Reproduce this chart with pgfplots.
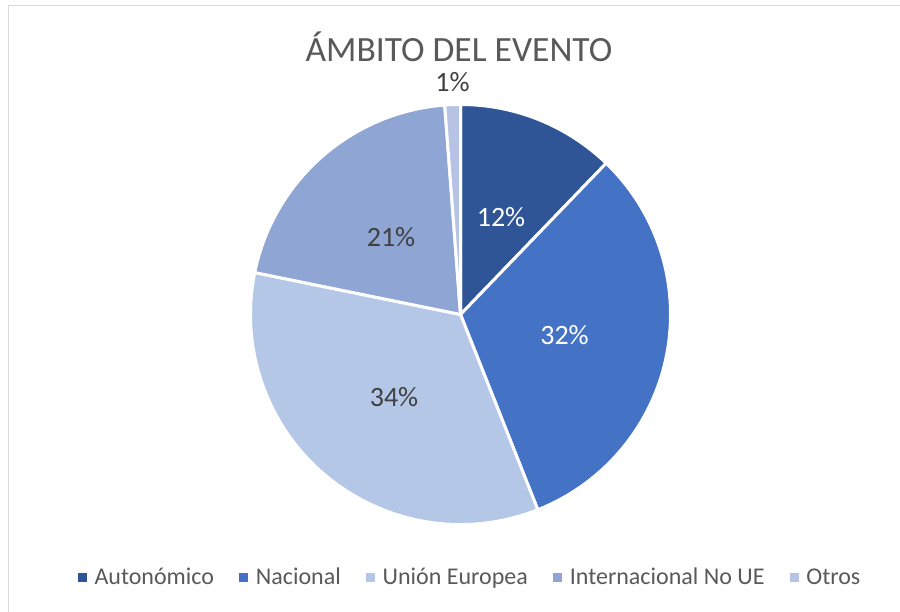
\documentclass[border=0pt]{standalone}
\usepackage{pgfplots}
\pgfplotsset{compat=1.18}
\usepackage{pgfplotstable}
\usepackage{fontspec}
\setmainfont{Carlito}

\definecolor{slice0}{HTML}{2F5597}
\definecolor{slice1}{HTML}{4472C4}
\definecolor{slice2}{HTML}{B4C7E7}
\definecolor{slice3}{HTML}{8FA5D3}
\definecolor{slice4}{HTML}{B7C3E4}
\definecolor{titlegray}{HTML}{595959}
\definecolor{labelgray}{HTML}{404040}
\definecolor{bordergray}{HTML}{D9D9D9}

% share of each category (%), clockwise from 12 o'clock
\pgfplotstableread{
value
12.2
31.8
34.2
20.6
1.2
}\pietable

\begin{document}
\begin{tikzpicture}
\gdef\cum{0}
\foreach \i in {0,...,4}{%
  \pgfplotstablegetelem{\i}{value}\of\pietable
  \pgfmathsetmacro\sAng{90-3.6*\cum}%
  \pgfmathsetmacro\newcum{\cum+\pgfplotsretval}%
  \pgfmathsetmacro\eAng{90-3.6*\newcum}%
  \expandafter\xdef\csname sa\i\endcsname{\sAng}%
  \expandafter\xdef\csname ea\i\endcsname{\eAng}%
  \xdef\cum{\newcum}%
}
\begin{axis}[name=ax, at={(0,0)}, anchor=south west,
  x=1bp, y=1bp, xmin=0, xmax=900, ymin=0, ymax=612,
  hide axis, clip=false, disabledatascaling,
  legend columns=-1,
  legend style={at={(469/900,35/612)}, anchor=center, draw=none, fill=none,
    font=\fontsize{24bp}{28bp}\selectfont, text=titlegray,
    nodes={inner sep=0pt},
    /tikz/every odd column/.append style={column sep=8.5bp},
    /tikz/every even column/.append style={column sep=25bp}},
  legend image code/.code={\fill[#1] (0bp,-4bp) rectangle (8bp,4bp);}]

\draw[bordergray, line width=1.5bp] (axis cs:8.5,0) -- (axis cs:8.5,606.5) -- (axis cs:900,606.5);

\pgfplotsinvokeforeach{0,...,4}{%
  \filldraw[fill=slice#1, draw=white, line width=3bp, line join=round]
    (axis cs:460.5,297.5) -- ++(\csname sa#1\endcsname:210bp)
    arc[start angle=\csname sa#1\endcsname, end angle=\csname ea#1\endcsname, radius=210bp] -- cycle;
}

\addlegendimage{slice0, fill=slice0}
\addlegendimage{slice1, fill=slice1}
\addlegendimage{slice2, fill=slice2}
\addlegendimage{slice3, fill=slice3}
\addlegendimage{slice4, fill=slice4}
\legend{Autonómico, Nacional, Unión Europea, Internacional No UE, Otros}

\node[anchor=base, text=titlegray, font=\fontsize{35.5bp}{40bp}\selectfont] at (axis cs:459,550.3) {ÁMBITO DEL EVENTO};

\node[anchor=base, text=white, font=\fontsize{28bp}{32bp}\selectfont] at (axis cs:501,385) {12\%};
\node[anchor=base, text=white, font=\fontsize{28bp}{32bp}\selectfont] at (axis cs:564.5,267) {32\%};
\node[anchor=base, text=labelgray, font=\fontsize{28bp}{32bp}\selectfont] at (axis cs:394,205.3) {34\%};
\node[anchor=base, text=labelgray, font=\fontsize{28bp}{32bp}\selectfont] at (axis cs:391,365.3) {21\%};
\node[anchor=base, text=labelgray, font=\fontsize{28bp}{32bp}\selectfont] at (axis cs:452.5,520.3) {1\%};
\end{axis}
\pgfresetboundingbox
\path (ax.south west) rectangle (ax.north east);
\end{tikzpicture}
\end{document}
